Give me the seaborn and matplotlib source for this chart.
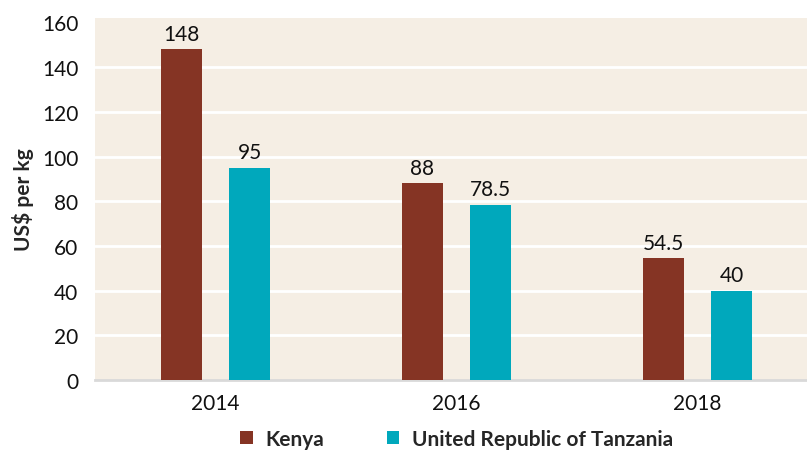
import pandas as pd
import matplotlib.pyplot as plt
import seaborn as sns

years = ['2014', '2016', '2018']
kenya = [148, 88, 54.5]
tanzania = [95, 78.5, 40]
countries = ['Kenya', 'United Republic of Tanzania']

df = pd.DataFrame({
    'year': years * 2,
    'price': kenya + tanzania,
    'country': [countries[0]] * 3 + [countries[1]] * 3,
})

sns.set_style('white')
plt.rcParams['font.family'] = ['Lato', 'DejaVu Sans']

fig = plt.figure(figsize=(8.07, 4.52), dpi=100)
ax = fig.add_axes([95 / 807, 1 - 381 / 452, 723 / 807, 362 / 452])
ax.set_facecolor('#f5eee4')

sns.barplot(data=df, x='year', y='price', hue='country', ax=ax,
            palette=['#853424', '#00a8bc'], width=0.565, gap=0.41,
            saturation=1, linewidth=0, zorder=3)

for c in ax.containers:
    labels = [f'{v:g}' for v in c.datavalues]
    ax.bar_label(c, labels=labels, padding=4, fontsize=15, color='#111111')

ax.set_ylim(0, 162)
ax.set_yticks(range(0, 161, 20))
# white gridlines, none at the top tick
for y in range(20, 160, 20):
    ax.axhline(y, color='white', linewidth=2, zorder=1)
for s in ['top', 'right', 'left']:
    ax.spines[s].set_visible(False)
ax.spines['bottom'].set_color('#d9d9d9')
ax.spines['bottom'].set_linewidth(2)
ax.tick_params(axis='both', length=0, labelsize=15, colors='#111111')
ax.tick_params(axis='y', pad=12)
ax.tick_params(axis='x', pad=9)
ax.set_xlabel('')
ax.set_ylabel('US$ per kg', fontsize=15, fontweight='bold', labelpad=6)

ax.legend(loc='center', bbox_to_anchor=(0.5, -0.162), ncol=2, frameon=False,
          handlelength=0.6, handleheight=0.6, columnspacing=3.0, handletextpad=0.6,
          prop={'size': 15, 'weight': 'bold'})

fig.savefig('out.png', dpi=100)
